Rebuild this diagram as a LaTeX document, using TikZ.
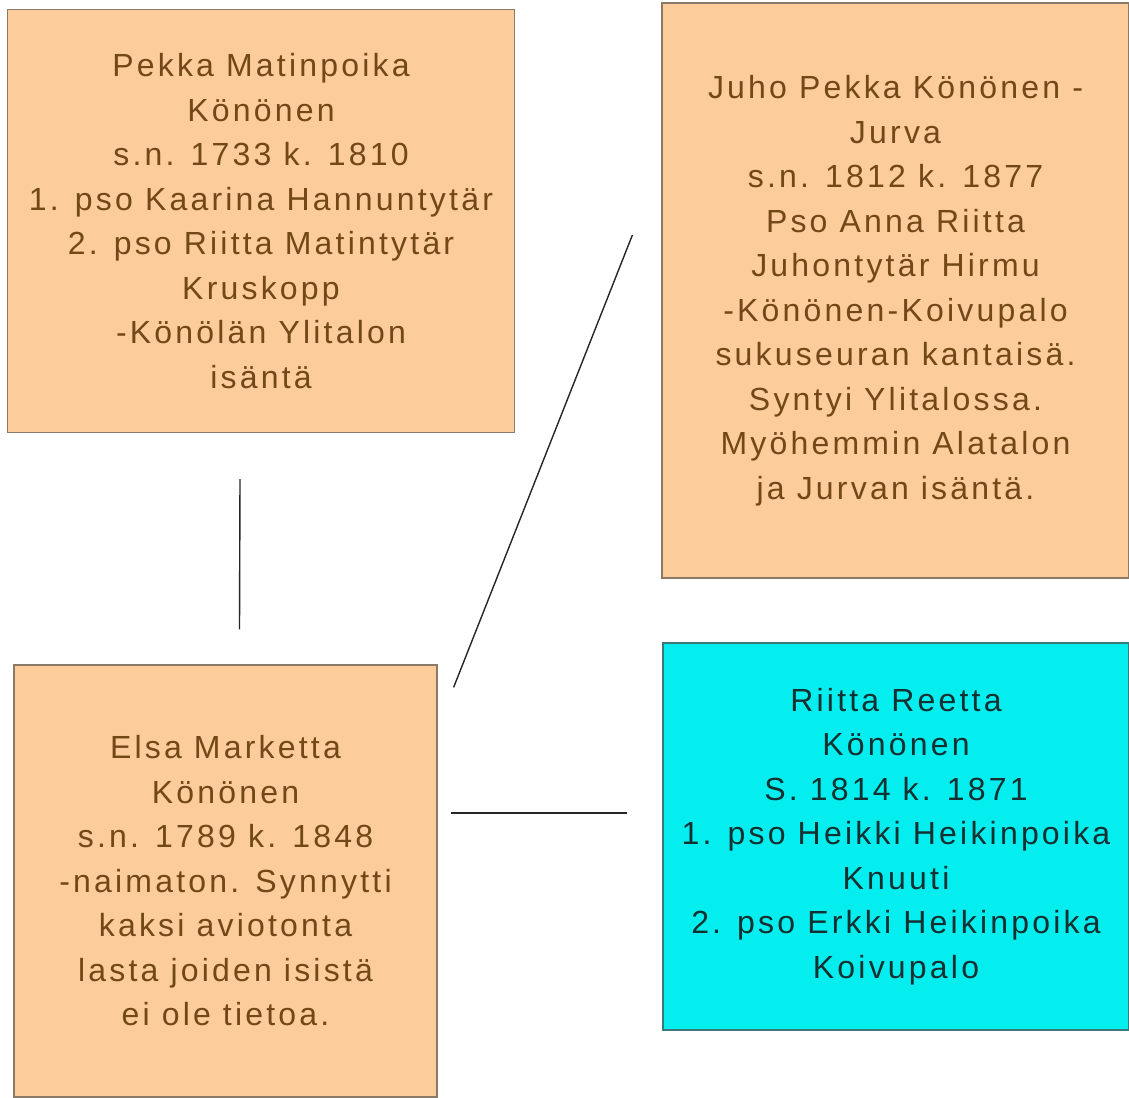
\documentclass[tikz,border=0pt]{standalone}
\usepackage{fontspec}
\setmainfont{Liberation Sans}[LetterSpace=10]
\usepackage{tikz}
\usetikzlibrary{positioning}
\definecolor{peach}{RGB}{253,204,155}
\definecolor{peachline}{RGB}{140,122,105}
\definecolor{browntext}{RGB}{115,72,25}
\definecolor{aqua}{RGB}{4,238,240}
\definecolor{aqualine}{RGB}{60,120,120}
\definecolor{aquatext}{RGB}{20,48,48}
\tikzset{person/.style={rectangle,draw=peachline,fill=peach,text=browntext,line width=1.2pt,align=center,inner sep=0pt,font=\fontsize{32}{44.5}\selectfont}}
\tikzset{child/.style={person,draw=aqualine,fill=aqua,text=aquatext}}
\tikzset{link/.style={draw,line width=1.4pt,black!85}}

\begin{document}
\begin{tikzpicture}[x=1pt,y=-1pt]
    \useasboundingbox (0,0) rectangle (1129,1097);
    \fill[white] (0,0) rectangle (1129,1097);

    \node[person,minimum width=507pt,minimum height=423pt] (pekka) at (261,221) {Pekka Matinpoika\\ Könönen\\ s.n. 1733 k. 1810\\ 1. pso Kaarina Hannuntytär\\ 2. pso Riitta Matintytär\\ Kruskopp\\ -Könölän Ylitalon\\ isäntä};
    \node[person,minimum width=467pt,minimum height=575pt] (juho) at (895.5,290.5) {Juho Pekka Könönen -\\ Jurva\\ s.n. 1812 k. 1877\\ Pso Anna Riitta\\ Juhontytär Hirmu\\ -Könönen-Koivupalo\\ sukuseuran kantaisä.\\ Syntyi Ylitalossa.\\ Myöhemmin Alatalon\\ ja Jurvan isäntä.};
    \node[person,minimum width=423pt,minimum height=432pt] (elsa) at (225.5,881) {Elsa Marketta\\ Könönen\\ s.n. 1789 k. 1848\\ -naimaton. Synnytti\\ kaksi aviotonta\\ lasta joiden isistä\\ ei ole tietoa.};
    \node[child,minimum width=466pt,minimum height=387pt] (riitta) at (896,836.5) {Riitta Reetta\\ Könönen\\ S. 1814 k. 1871\\ 1. pso Heikki Heikinpoika\\ Knuuti\\ 2. pso Erkki Heikinpoika\\ Koivupalo};

        \path[link] ([xshift=-21pt,yshift=-46pt]pekka.south) -- ([xshift=14pt,yshift=35pt]elsa.north);
        \path[link] ([xshift=16pt,yshift=-23pt]elsa.north east) -- ([xshift=-29pt,yshift=55.5pt]juho.west);
        \path[link] ([xshift=13pt,yshift=68pt]elsa.east) -- ([xshift=-35pt,yshift=23.5pt]riitta.west);
\end{tikzpicture}
\end{document}
